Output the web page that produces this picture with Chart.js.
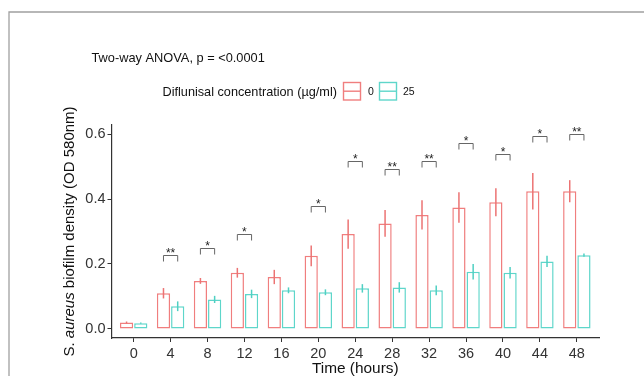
<!DOCTYPE html>
<html><head><meta charset="utf-8">
<script src="https://cdn.jsdelivr.net/npm/chart.js@4.4.0/dist/chart.umd.min.js"></script>
<style>html,body{margin:0;padding:0;background:#fff;overflow:hidden}canvas{display:block}</style>
</head><body>
<canvas id="c" width="644" height="376"></canvas>
<script>
// ---- data ----
const hours = ['0','4','8','12','16','20','24','28','32','36','40','44','48'];
const control = [0.020, 0.110, 0.148, 0.173, 0.160, 0.225, 0.292, 0.325, 0.351, 0.374, 0.390, 0.424, 0.424];
const controlErr = [0.003, 0.016, 0.009, 0.015, 0.022, 0.032, 0.045, 0.041, 0.045, 0.047, 0.043, 0.056, 0.034];
const treated = [0.018, 0.070, 0.091, 0.108, 0.119, 0.113, 0.125, 0.128, 0.119, 0.176, 0.173, 0.208, 0.227];
const treatedErr = [0.002, 0.015, 0.011, 0.013, 0.009, 0.009, 0.013, 0.016, 0.015, 0.024, 0.018, 0.017, 0.005];
const sigLabels = ['', '**', '*', '*', '', '*', '*', '**', '**', '*', '*', '*', '**'];
const bracketY = [null, 0.228, 0.249, 0.291, null, 0.378, 0.517, 0.491, 0.517, 0.571, 0.537, 0.594, 0.600];
const yTicks = [0, 0.2, 0.4, 0.6];
const seriesNames = ['0', '25'];
const titleText = 'Two-way ANOVA, p = <0.0001';
const legendTitle = 'Diflunisal concentration (\u00b5g/ml)';
const xTitle = 'Time (hours)';

// ---- style ----
const FONT = '"Liberation Sans", Arial, Helvetica, sans-serif';
const RED = '#F07E7E', CYAN = '#5ED6CA';
const ERR_RED = '#EC7373', ERR_CYAN = '#4FD0C3';

const overlay = {
  id: 'overlay',
  beforeDraw(chart) {
    const ctx = chart.ctx;
    ctx.save();
    ctx.fillStyle = '#fff';
    ctx.fillRect(0, 0, chart.width, chart.height);
    ctx.strokeStyle = '#a0a0a0';
    ctx.lineWidth = 1.3;
    ctx.beginPath();
    ctx.moveTo(9, chart.height);
    ctx.lineTo(9, 12);
    ctx.lineTo(chart.width, 12);
    ctx.stroke();
    ctx.restore();
  },
  afterDatasetsDraw(chart) {
    const ctx = chart.ctx;
    const ys = chart.scales.y;
    const metas = [chart.getDatasetMeta(0), chart.getDatasetMeta(1)];
    const vals = [control, treated], errs = [controlErr, treatedErr], cols = [ERR_RED, ERR_CYAN];
    ctx.save();
    ctx.lineWidth = 1.5;
    for (let d = 0; d < 2; d++) {
      ctx.strokeStyle = cols[d];
      metas[d].data.forEach((bar, i) => {
        const y1 = ys.getPixelForValue(vals[d][i] - errs[d][i]);
        const y2 = ys.getPixelForValue(vals[d][i] + errs[d][i]);
        ctx.beginPath();
        ctx.moveTo(bar.x, y1);
        ctx.lineTo(bar.x, y2);
        ctx.stroke();
      });
    }
    // significance brackets
    ctx.strokeStyle = '#666';
    ctx.lineWidth = 1;
    ctx.fillStyle = '#222';
    ctx.font = '12px ' + FONT;
    ctx.textAlign = 'center';
    ctx.textBaseline = 'alphabetic';
    bracketY.forEach((b, i) => {
      if (b === null) return;
      const x1 = metas[0].data[i].x, x2 = metas[1].data[i].x;
      const yt = Math.round(ys.getPixelForValue(b)) + 0.5;
      ctx.beginPath();
      ctx.moveTo(x1, yt + 6);
      ctx.lineTo(x1, yt);
      ctx.lineTo(x2, yt);
      ctx.lineTo(x2, yt + 6);
      ctx.stroke();
      ctx.fillText(sigLabels[i], (x1 + x2) / 2, yt + 1);
    });
    ctx.restore();
  },
  afterDraw(chart) {
    const ctx = chart.ctx;
    const ca = chart.chartArea;
    ctx.save();
    ctx.fillStyle = '#111';
    ctx.textBaseline = 'alphabetic';
    ctx.textAlign = 'left';
    // title
    ctx.font = '12.8px ' + FONT;
    ctx.fillText(titleText, 91.5, 61.5);
    // legend
    ctx.font = '12.7px ' + FONT;
    ctx.fillText(legendTitle, 162.5, 95.5);
    const keys = [[343.5, RED, 368, seriesNames[0]], [379.5, CYAN, 403, seriesNames[1]]];
    keys.forEach(([kx, col, lx, lab]) => {
      ctx.strokeStyle = col;
      ctx.lineWidth = 1.4;
      ctx.strokeRect(kx, 82.5, 17, 17.5);
      ctx.beginPath();
      ctx.moveTo(kx, 91.2);
      ctx.lineTo(kx + 17, 91.2);
      ctx.stroke();
      ctx.fillStyle = '#111';
      ctx.font = '10.5px ' + FONT;
      ctx.fillText(lab, lx, 95);
    });
    // x title
    ctx.font = '15.4px ' + FONT;
    ctx.textAlign = 'center';
    ctx.fillText(xTitle, (ca.left + ca.right) / 2, 373);
    // y title with italic species name
    const parts = [['S. ', 'normal'], ['aureus', 'italic'], [' biofilm density (OD 580nm)', 'normal']];
    const fs = '15px ';
    let total = 0;
    parts.forEach(p => { ctx.font = (p[1] === 'italic' ? 'italic ' : '') + fs + FONT; p.w = ctx.measureText(p[0]).width; total += p.w; });
    ctx.translate(73.5, (ca.top + ca.bottom) / 2);
    ctx.rotate(-Math.PI / 2);
    ctx.textAlign = 'left';
    let x = -total / 2;
    parts.forEach(p => {
      ctx.font = (p[1] === 'italic' ? 'italic ' : '') + fs + FONT;
      ctx.fillText(p[0], x, 0);
      x += p.w;
    });
    ctx.restore();
  }
};

new Chart(document.getElementById('c'), {
  type: 'bar',
  data: {
    labels: hours,
    datasets: [
      { label: seriesNames[0], data: control, backgroundColor: '#fff', borderColor: RED, borderWidth: 1.5, borderSkipped: false },
      { label: seriesNames[1], data: treated, backgroundColor: '#fff', borderColor: CYAN, borderWidth: 1.5, borderSkipped: false }
    ]
  },
  options: {
    responsive: false,
    animation: false,
    devicePixelRatio: 1,
    layout: { padding: { left: 69.5, right: 45, top: 125, bottom: 0 } },
    datasets: { bar: { categoryPercentage: 0.77, barPercentage: 0.93 } },
    plugins: { legend: { display: false }, title: { display: false }, tooltip: { enabled: false } },
    scales: {
      x: {
        type: 'category',
        offset: true,
        afterBuildTicks(scale) { scale._startValue = -0.6; scale._valueRange = hours.length - 1 + 1.2; },
        afterFit(scale) { scale.height = 38; },
        grid: { display: true, drawOnChartArea: false, drawTicks: true, tickLength: 4, color: '#333', offset: false, lineWidth: 1 },
        border: { display: true, color: '#333', width: 1.2 },
        ticks: { color: '#333', font: { family: FONT, size: 14.5 }, padding: 3, autoSkip: false, maxRotation: 0 }
      },
      y: {
        min: -0.0277,
        max: 0.6277,
        afterBuildTicks(scale) { scale.ticks = yTicks.map(v => ({ value: v })); },
        afterFit(scale) { scale.width = 42; },
        grid: { display: true, drawOnChartArea: false, drawTicks: true, tickLength: 4, color: '#333', lineWidth: 1 },
        border: { display: true, color: '#333', width: 1.2 },
        ticks: { color: '#333', font: { family: FONT, size: 14.5 }, padding: 2, callback: v => Number(v).toFixed(1) }
      }
    }
  },
  plugins: [overlay]
});
</script>
</body></html>
